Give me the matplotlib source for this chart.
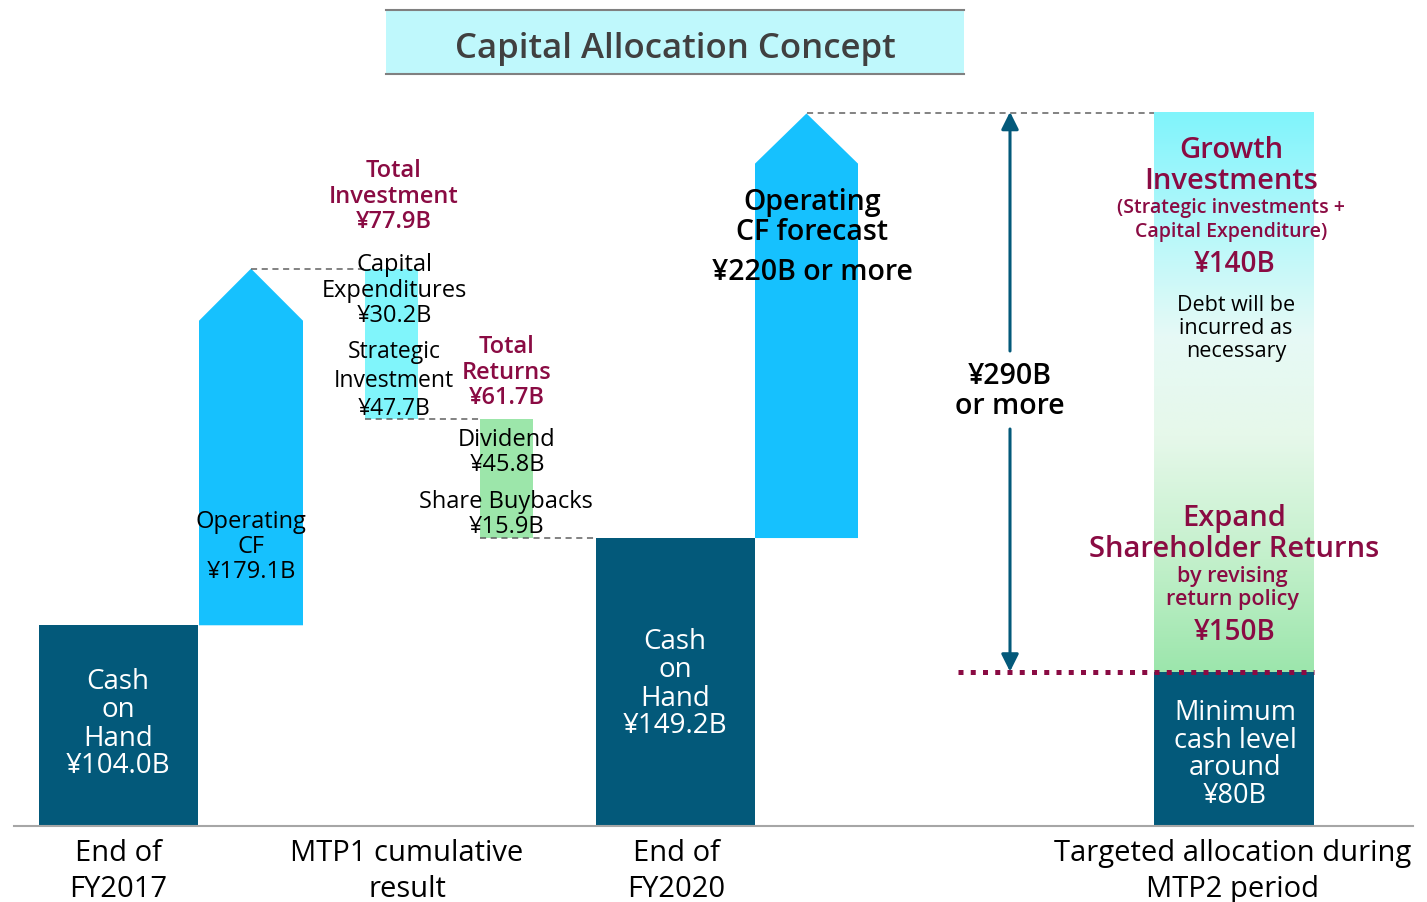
import matplotlib
matplotlib.use("Agg")
import matplotlib.pyplot as plt
import numpy as np
from matplotlib.patches import Polygon, Rectangle
from matplotlib.colors import LinearSegmentedColormap

# ---------------- data (JPY billions) ----------------
cash_fy2017 = 104.0
operating_cf_mtp1 = 179.1
capital_expenditures = 30.2
strategic_investment = 47.7
total_investment = 77.9
dividend = 45.8
share_buybacks = 15.9
total_returns = 61.7
cash_fy2020 = 149.2
operating_cf_forecast = 220
allocation_total = 290
growth_investments = 140
shareholder_returns = 150
minimum_cash = 80

categories = ["End of\nFY2017", "MTP1 cumulative\nresult", "End of\nFY2020",
              "Targeted allocation during\nMTP2 period"]
title = "Capital Allocation Concept"

# ---------------- style ----------------
plt.rcParams['font.family'] = ['Open Sans', 'DejaVu Sans']
TEAL = "#03597A"
ARROW = "#16C1FE"
CYAN = "#80F5FB"
GREEN = "#9CE6AA"
MAROON = "#8A0B43"
DASH = "#606060"

W, H = 1427, 903
K = 1.93      # pixels per billion
BASE = 827    # pixel row of zero

fig = plt.figure(figsize=(W / 100, H / 100), dpi=100)
ax = fig.add_axes([0, 0, 1, 1])
ax.set_xlim(0, W)
ax.set_ylim(-(H - BASE) / K, BASE / K)
ax.axis('off')


def py(p):
    """pixel row -> data y"""
    return (BASE - p) / K


def lines(x, baselines, texts, size, color='black', weight='normal'):
    for b, t in zip(baselines, texts):
        ax.text(x, py(b), t, ha='center', va='baseline', fontsize=size,
                color=color, fontweight=weight, zorder=6)


def up_arrow(xc, width, bottom, top, head, color):
    x0, x1 = xc - width / 2, xc + width / 2
    pts = [(x0, bottom), (x1, bottom), (x1, top - head), (xc, top),
           (x0, top - head)]
    ax.add_patch(Polygon(pts, closed=True, facecolor=color, edgecolor='none', zorder=2))


# ---------------- title box ----------------
ax.add_patch(Rectangle((386, py(75)), 578, (75 - 11) / K, facecolor="#BFF8FC",
                       edgecolor='none', zorder=1))
ax.plot([386, 964], [py(11), py(11)], color="#808080", lw=1.5, zorder=2)
ax.plot([386, 964], [py(75), py(75)], color="#808080", lw=1.5, zorder=2)
ax.text(675, py(58), title, ha='center', va='baseline', fontsize=25,
        color="#404040", fontweight='semibold', zorder=3)

# ---------------- waterfall ----------------
returns_bottom = cash_fy2020
invest_bottom = returns_bottom + total_returns
opcf_top = invest_bottom + total_investment
forecast_top = cash_fy2020 + operating_cf_forecast
alloc_top = minimum_cash + allocation_total

ax.bar(118.5, cash_fy2017, width=159, bottom=0, color=TEAL, zorder=2)
up_arrow(251, 104, cash_fy2017, opcf_top, 27, ARROW)
ax.bar(391.5, total_investment, width=53, bottom=invest_bottom, color=CYAN, zorder=2)
ax.bar(506.5, total_returns, width=53, bottom=returns_bottom, color=GREEN, zorder=2)
ax.bar(675.5, cash_fy2020, width=159, bottom=0, color=TEAL, zorder=2)
up_arrow(806.5, 103, cash_fy2020, forecast_top, 26, ARROW)
ax.bar(1234, minimum_cash, width=160, bottom=0, color=TEAL, zorder=2)

cmap = LinearSegmentedColormap.from_list("alloc", [
    (0.0, "#9CE6AC"), (0.2, "#C3F0CB"), (0.42, "#E6F8EA"),
    (0.6, "#E6FAF6"), (0.78, "#B9F8FA"), (1.0, "#80F4FC")])
grad = np.linspace(0, 1, 256).reshape(-1, 1)
ax.imshow(grad, extent=[1154, 1314, minimum_cash, alloc_top], origin='lower',
          aspect='auto', cmap=cmap, zorder=1.5)

dash_kw = dict(color=DASH, lw=1.1, linestyle=(0, (4, 3)), zorder=3)
ax.plot([251, 365], [opcf_top, opcf_top], **dash_kw)
ax.plot([365, 480], [invest_bottom, invest_bottom], **dash_kw)
ax.plot([480, 596], [returns_bottom, returns_bottom], **dash_kw)
ax.plot([806.5, 1154], [forecast_top, forecast_top], **dash_kw)

ax.plot([14, 1413], [py(826.5), py(826.5)], color="#A6A6A6", lw=1.5, zorder=3)

ax.plot([958, 1314], [minimum_cash, minimum_cash], color=MAROON, lw=3.6,
        linestyle=(0, (1, 1.45)), solid_capstyle='butt', dash_capstyle='butt', zorder=4)

akw = dict(arrowstyle='-|>', color=TEAL, lw=2.2, mutation_scale=26,
           shrinkA=0, shrinkB=0)
ax.annotate('', xy=(1010, alloc_top), xytext=(1010, py(352)), arrowprops=akw, zorder=5)
ax.annotate('', xy=(1010, minimum_cash), xytext=(1010, py(430)), arrowprops=akw, zorder=5)

# ---------------- labels ----------------
SB = 'semibold'
lines(118, [689, 717, 746, 773], ["Cash", "on", "Hand", f"¥{cash_fy2017:.1f}B"], 20, 'white')
lines(675, [649, 677, 706, 733], ["Cash", "on", "Hand", f"¥{cash_fy2020:.1f}B"], 20, 'white')
lines(251, [528, 553, 578], ["Operating", "CF", f"¥{operating_cf_mtp1:.1f}B"], 17)
lines(394, [177, 203, 228], ["Total", "Investment", f"¥{total_investment:.1f}B"], 17, MAROON, SB)
lines(394, [271, 297, 322], ["Capital", "Expenditures", f"¥{capital_expenditures:.1f}B"], 17)
lines(394, [358, 387, 415], ["Strategic", "Investment", f"¥{strategic_investment:.1f}B"], 16.5)
lines(507, [353, 379, 404], ["Total", "Returns", f"¥{total_returns:.1f}B"], 17, MAROON, SB)
lines(507, [446, 471], ["Dividend", f"¥{dividend:.1f}B"], 17)
lines(506, [508, 533], ["Share Buybacks", f"¥{share_buybacks:.1f}B"], 17)
lines(812, [210, 240], ["Operating", "CF forecast"], 20.5, 'black', SB)
lines(812, [280], [f"¥{operating_cf_forecast:.0f}B or more"], 20.5, 'black', SB)
lines(1010, [384, 414], [f"¥{allocation_total:.0f}B", "or more"], 20.5, 'black', SB)
lines(1231, [158, 189], ["Growth", "Investments"], 21, MAROON, SB)
lines(1231, [213, 237], ["(Strategic investments +", "Capital Expenditure)"], 14, MAROON, SB)
lines(1235, [272], [f"¥{growth_investments:.0f}B"], 20, MAROON, SB)
lines(1236, [311, 334, 357], ["Debt will be", "incurred as", "necessary"], 15.5)
lines(1234, [526, 557], ["Expand", "Shareholder Returns"], 21, MAROON, SB)
lines(1232, [582, 605], ["by revising", "return policy"], 15.5, MAROON, SB)
lines(1235, [640], [f"¥{shareholder_returns:.0f}B"], 20, MAROON, SB)
lines(1235, [720, 748, 775, 803], ["Minimum", "cash level", "around", f"¥{minimum_cash:.0f}B"], 19.5, 'white')

cat_x = [118, 407, 676, 1233]
for cx, lab in zip(cat_x, categories):
    a, b = lab.split("\n")
    lines(cx, [861, 897], [a, b], 21)

fig.savefig("out.png", dpi=100)
